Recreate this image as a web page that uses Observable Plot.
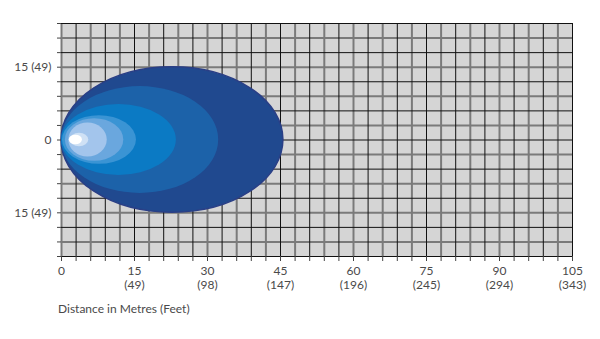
<!DOCTYPE html>
<html>
<head>
<meta charset="utf-8">
<script src="https://cdn.jsdelivr.net/npm/d3@7"></script>
<script src="https://cdn.jsdelivr.net/npm/@observablehq/plot@0.6"></script>
<style>
  body { margin: 0; background: #fff; font-family: Lato, "Open Sans", sans-serif; }
  #caption { margin: 0 0 0 58px; padding-top: 2px; font-size: 12px; line-height: 14px; color: #4a4a4a; }
</style>
</head>
<body>
<div id="chart"></div>
<div id="caption">Distance in Metres (Feet)</div>
<script>
// Axis ticks and labels
const xLabelTicks = [0, 15, 30, 45, 60, 75, 90, 105];
const xFeet = ["", "(49)", "(98)", "(147)", "(196)", "(245)", "(294)", "(343)"];
const yLabelTicks = [-15, 0, 15];
const yLabels = ["15 (49)", "0", "15 (49)"];
const gridX = d3.range(0, 106, 3);
const gridY = d3.range(-24, 25, 3);

// Beam pattern zones (metres): start, end, half-width, colour
const beamStart = [0, 0, 0, 0.2, 0.8, 1.5, 1.8, 1.6];
const beamEnd = [45.6, 32.3, 23.6, 15.4, 12.8, 9.4, 5.6, 4.3];
const beamHalfWidth = [15, 11, 7.3, 5.0, 4.4, 3.5, 1.4, 1.0];
const beamColor = ["#20498f", "#1c62a9", "#0b7ac4", "#3a94d4", "#6aa7de", "#a3c5ec", "#cfe1f5", "#ffffff"];

const beams = beamStart.map((s, i) => ({start: s, end: beamEnd[i], half: beamHalfWidth[i], color: beamColor[i], i}));

const xLabelMap = new Map(xLabelTicks.map((t, i) => [t, i === 0 ? "0" : `${t}\n${xFeet[i]}`]));
const yLabelMap = new Map(yLabelTicks.map((t, i) => [t, yLabels[i]]));

function ellipses(index, scales, values, dimensions, context) {
  const g = d3.create("svg:g");
  for (const b of beams) {
    const cx = (b.start + b.end) / 2;
    const px = scales.x(cx);
    const rx = scales.x(b.end) - px;
    const py = scales.y(0);
    const ry = py - scales.y(b.half);
    g.append("ellipse")
      .attr("cx", px).attr("cy", py).attr("rx", rx).attr("ry", ry)
      .attr("fill", b.color)
      .attr("stroke", b.i === 0 ? "#2a3f86" : "none")
      .attr("stroke-width", b.i === 0 ? 1.5 : 0);
  }
  return g.node();
}

const chart = Plot.plot({
  width: 600,
  height: 300,
  marginLeft: 61,
  marginRight: 28,
  marginTop: 23,
  marginBottom: 44,
  style: {fontFamily: "Lato, 'Open Sans', sans-serif", fontSize: "12px", color: "#4a4a4a", background: "#fff"},
  x: {domain: [0, 105]},
  y: {domain: [-24, 24]},
  marks: [
    Plot.frame({fill: "#d5d5d5", stroke: null}),
    Plot.ruleX(gridX.filter(v => v % 6 === 0), {y1: -24, y2: 24, stroke: "#7a7a7a", strokeWidth: 2}),
    Plot.ruleY(gridY.filter(v => v % 6 !== 0), {x1: 0, x2: 105, stroke: "#7a7a7a", strokeWidth: 2}),
    Plot.ruleX(gridX.filter(v => v % 6 !== 0), {y1: -24, y2: 24, stroke: "#111", strokeWidth: 1}),
    Plot.ruleY(gridY.filter(v => v % 6 === 0), {x1: 0, x2: 105, stroke: "#111", strokeWidth: 1}),
    ellipses,
    Plot.axisX({ticks: gridX, tickSize: 5, tickPadding: 3, stroke: "#444", fill: "#4a4a4a",
      tickFormat: d => xLabelMap.get(d) ?? "", lineHeight: 1.2, label: null}),
    Plot.axisY({ticks: gridY, tickSize: 4, tickPadding: 6, stroke: "#444", fill: "#4a4a4a",
      tickFormat: d => yLabelMap.get(d) ?? "", label: null})
  ]
});
document.getElementById("chart").appendChild(chart);
</script>
</body>
</html>
